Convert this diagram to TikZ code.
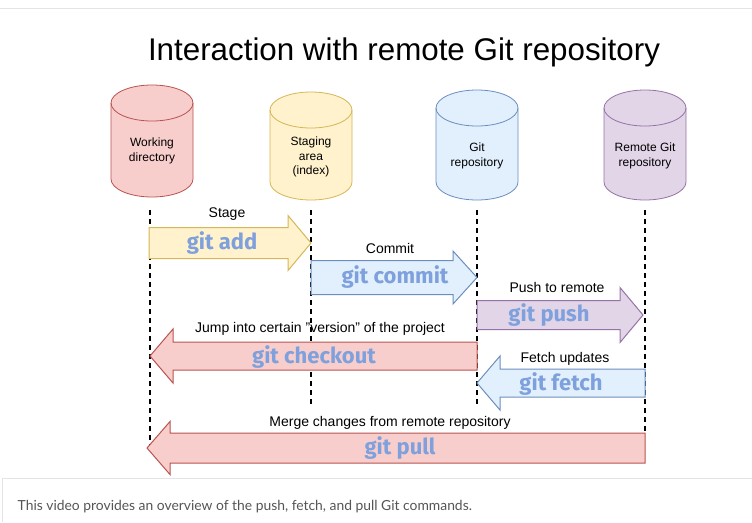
\documentclass[tikz,border=0pt]{standalone}
\usepackage{fontspec}
\setmainfont{Liberation Sans}
\newfontfamily\cmdfont{Fira Sans}
\newfontfamily\notefont{Lato}
\usepackage{tikz}

\definecolor{redfill}{HTML}{F8CECC}
\definecolor{redline}{HTML}{B85450}
\definecolor{yellowfill}{HTML}{FFF2CC}
\definecolor{yellowline}{HTML}{D6B656}
\definecolor{bluefill}{HTML}{E1F0FC}
\definecolor{blueline}{HTML}{6C8EBF}
\definecolor{purplefill}{HTML}{E1D5E7}
\definecolor{purpleline}{HTML}{9673A6}
\definecolor{cmdblue}{HTML}{7EA0DC}
\definecolor{notegray}{HTML}{555555}
\definecolor{rulegray}{HTML}{E4E4E4}

\tikzset{
  store/.style={line width=0.6pt},
  lid/.style={x radius=30.75pt, y radius=13.5pt},
  storename/.style={align=center, font=\fontsize{9}{11}\selectfont},
  lifeline/.style={line width=1.4pt, dash pattern=on 3.75pt off 3pt},
  blockarrow/.style={line width=0.75pt},
  cmd/.style={font=\cmdfont\bfseries\fontsize{16.5}{18}\selectfont, text=cmdblue},
  action/.style={font=\fontsize{10.5}{12}\selectfont},
  framerule/.style={rulegray, line width=0.75pt}
}

\begin{document}
\begin{tikzpicture}[x=0.75pt,y=0.75pt,yscale=-1,xscale=1]
        \useasboundingbox (0,0) rectangle (752,522);
        \draw[framerule] (0,8) -- (752,8) ;
        \draw[framerule] (2,522) -- (2,478) -- (752,478) ;

        \node (title) at (404,52) {\fontsize{23.5}{28}\selectfont Interaction with remote Git repository};

        % the four storage places
        \draw[store, fill=redfill, draw=redline] (111,103) -- (111,179) arc[start angle=180, end angle=0, lid] -- (193,103) arc[start angle=0, end angle=-180, lid] -- cycle ;
        \draw[store, draw=redline] (111,103) arc[start angle=180, end angle=0, lid] ;
        \draw[store, fill=yellowfill, draw=yellowline] (270,110) -- (270,182) arc[start angle=180, end angle=0, lid] -- (352,110) arc[start angle=0, end angle=-180, lid] -- cycle ;
        \draw[store, draw=yellowline] (270,110) arc[start angle=180, end angle=0, lid] ;
        \draw[store, fill=bluefill, draw=blueline] (436,108) -- (436,182) arc[start angle=180, end angle=0, lid] -- (518,108) arc[start angle=0, end angle=-180, lid] -- cycle ;
        \draw[store, draw=blueline] (436,108) arc[start angle=180, end angle=0, lid] ;
        \draw[store, fill=purplefill, draw=purpleline] (604,108) -- (604,182) arc[start angle=180, end angle=0, lid] -- (686,108) arc[start angle=0, end angle=-180, lid] -- cycle ;
        \draw[store, draw=purpleline] (604,108) arc[start angle=180, end angle=0, lid] ;

        \node[storename] (workname) at (152,151) {Working\\directory};
        \node[storename] (stagingname) at (311,157) {Staging\\area\\(index)};
        \node[storename] (localname) at (477,156) {Git\\repository};
        \node[storename] (remotename) at (645,156) {Remote Git\\repository};

        \coordinate (worktop) at (150,210);
        \coordinate (workend) at (150,445);
        \coordinate (stagingtop) at (311,210);
        \coordinate (stagingend) at (311,405);
        \coordinate (localtop) at (477,210);
        \coordinate (localend) at (477,408);
        \coordinate (remotetop) at (645,210);
        \coordinate (remoteend) at (645,433);
        \draw[lifeline] (worktop) -- (workend) ;
        \draw[lifeline] (stagingtop) -- (stagingend) ;
        \draw[lifeline] (localtop) -- (localend) ;
        \draw[lifeline] (remotetop) -- (remoteend) ;

        % block arrows
        \draw[blockarrow, fill=yellowfill, draw=yellowline] (149,227.5) -- (288,227.5) -- (288,215.5) -- (311,243) -- (288,270.5) -- (288,258.5) -- (149,258.5) -- cycle ;
        \draw[blockarrow, fill=bluefill, draw=blueline] (311,260.5) -- (453,260.5) -- (453,251) -- (477,277.5) -- (453,304) -- (453,294.5) -- (311,294.5) -- cycle ;
        \draw[blockarrow, fill=purplefill, draw=purpleline] (477,300.5) -- (620,300.5) -- (620,287.5) -- (643,315) -- (620,342.5) -- (620,329.5) -- (477,329.5) -- cycle ;
        \draw[blockarrow, fill=redfill, draw=redline] (477,342) -- (173,342) -- (173,329) -- (150,356) -- (173,383) -- (173,370) -- (477,370) -- cycle ;
        \draw[blockarrow, fill=bluefill, draw=blueline] (645,369) -- (500,369) -- (500,356) -- (477,383) -- (500,410) -- (500,397) -- (645,397) -- cycle ;
        \draw[blockarrow, fill=redfill, draw=redline] (645,433) -- (170,433) -- (170,421.5) -- (147,448) -- (170,474.5) -- (170,463) -- (645,463) -- cycle ;

        \node[action] (stage) at (227,214) {Stage};
        \node[action] (commit) at (390,248) {Commit};
        \node[action] (push) at (557,287) {Push to remote};
        \node[action] (checkout) at (320,329) {Jump into certain {\char34}version{\char34} of the project};
        \node[action] (fetch) at (565,359) {Fetch updates};
        \node[action] (pull) at (390,423) {Merge changes from remote repository};

        \node[cmd] (add) at (222,243) {git add};
        \node[cmd] (commitcmd) at (395,277) {git commit};
        \node[cmd] (pushcmd) at (549,315) {git push};
        \node[cmd] (checkoutcmd) at (314,357) {git checkout};
        \node[cmd] (fetchcmd) at (561,384) {git fetch};
        \node[cmd] (pullcmd) at (400,448) {git pull};

        \node[anchor=west, text=notegray, font=\notefont\fontsize{10.4}{12}\selectfont] (note) at (13,507) {This video provides an overview of the push, fetch, and pull Git commands.};
    \end{tikzpicture}
\end{document}
